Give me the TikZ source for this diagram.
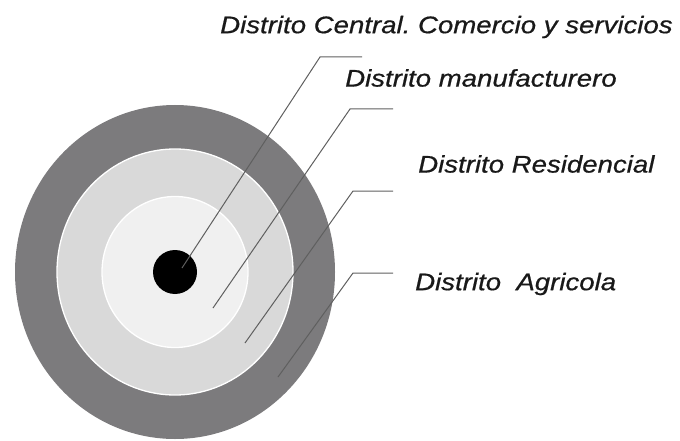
\documentclass[tikz,border=0pt]{standalone}
\usepackage{fontspec}
\setmainfont{Liberation Sans}
\newfontfamily\lblfont[FakeBold=0.6]{Liberation Sans}
\usepackage{tkz-euclide}
\definecolor{agri}{RGB}{124,123,125}
\definecolor{resid}{RGB}{217,217,217}
\definecolor{manuf}{RGB}{240,240,240}
\definecolor{leader}{RGB}{95,95,95}
\frenchspacing

\begin{document}
\begin{tikzpicture}[x=10pt,y=10pt,
  ring/.style={draw=white,line width=1.3pt},
  lbl/.style={anchor=west,inner sep=0pt,text=black!90,
    font=\lblfont\itshape\fontsize{24}{28}\selectfont,xscale=1.15,transform shape},
  leader/.style={draw=leader,line width=1pt}]
\useasboundingbox (0,0) rectangle (68,44);
\tkzDefPoints{17.5/16.8/O}
% rings
\fill[agri] (O) ellipse [x radius=16, y radius=16.7];
\filldraw[fill=resid,ring] (O) ellipse [x radius=11.8, y radius=12.3];
\filldraw[fill=manuf,ring] (O) ellipse [x radius=7.3, y radius=7.55];
\fill[black] (O) circle (2.2);
% leaders
\tkzDefPoints{18.2/17.2/a1, 32.0/38.3/b1, 36.2/38.3/c1,
  21.3/13.2/a2, 35.0/33.1/b2, 39.3/33.1/c2,
  24.5/9.7/a3, 35.3/24.9/b3, 39.3/24.9/c3,
  27.8/6.3/a4, 35.3/16.7/b4, 39.3/16.7/c4}
\draw[leader] (a1) -- (b1) -- (c1);
\draw[leader] (a2) -- (b2) -- (c2);
\draw[leader] (a3) -- (b3) -- (c3);
\draw[leader] (a4) -- (b4) -- (c4);
% labels
\tkzDefPoints{22.0/41.3/t1, 34.5/36.2/t2, 41.8/27.6/t3, 41.5/15.6/t4}
\node[lbl] (central) at (t1) {Distrito Central. Comercio y servicios};
\node[lbl] (manuf) at (t2) {Distrito manufacturero};
\node[lbl] (resid) at (t3) {Distrito Residencial};
\node[lbl] (agri) at (t4) {Distrito\ \ Agricola};
\end{tikzpicture}
\end{document}
